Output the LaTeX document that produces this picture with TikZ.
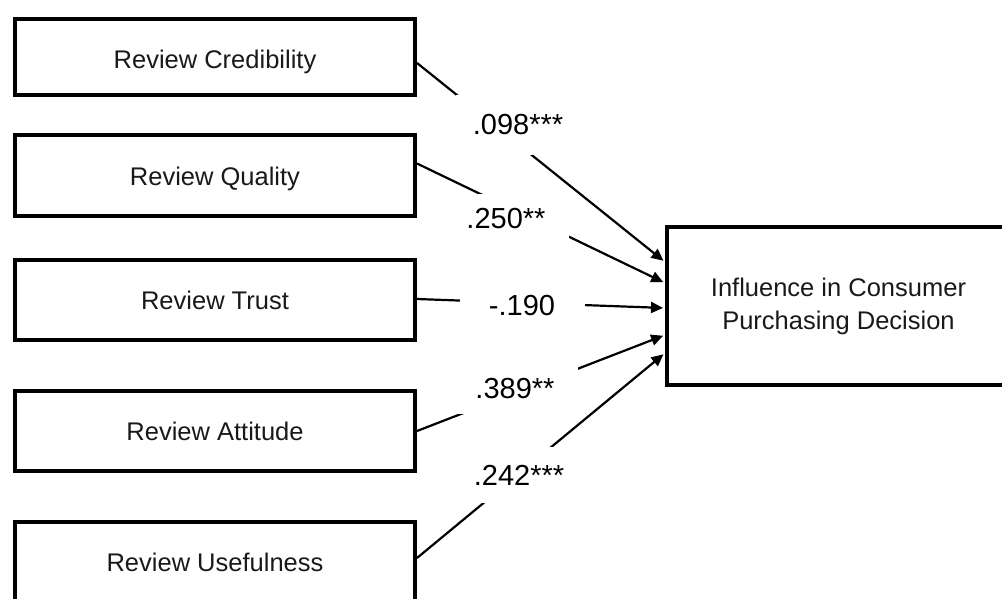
\documentclass[tikz,border=0pt]{standalone}
\usepackage{fontspec}
\setmainfont{Liberation Sans}
\usetikzlibrary{arrows.meta,calc}
\begin{document}
\begin{tikzpicture}[x=1pt,y=-1pt,
  factor/.style={draw=black, line width=4pt, minimum width=400pt, inner sep=0pt,
    font=\fontsize{25.5}{31}\selectfont, text=black!90},
  outcome/.style={draw=black, line width=4pt, minimum width=343pt, minimum height=158pt,
    inner sep=0pt, align=center, font=\fontsize{25.5}{33}\selectfont, text=black!90},
  effect/.style={draw=black, line width=2.2pt, -{Triangle[length=12pt,width=11pt]}, shorten >=2pt},
  coef/.style={fill=white, font=\fontsize{29}{35}\selectfont, minimum width=125pt,
    minimum height=50pt, inner sep=0pt}]
\clip (0,0) rectangle (1002,599);

% predictor boxes
\node[factor, minimum height=76pt] (cred) at (215,57)    {\raisebox{-5pt}[\height][\depth]{Review Credibility}};
\node[factor, minimum height=81pt] (qual) at (215,175.5) {\raisebox{-3pt}[\height][\depth]{Review Quality}};
\node[factor, minimum height=80pt] (trust) at (215,300)  {Review Trust};
\node[factor, minimum height=80pt] (att) at (215,431)    {Review Attitude};
\node[factor, minimum height=80pt] (use) at (215,562)    {Review Usefulness};

% outcome box
\node[outcome] (dec) at (838.5,306) {Influence in Consumer\\Purchasing Decision};

% paths
\draw[effect] ([yshift=-6pt]cred.east)  -- ([yshift=44pt]dec.west);
\draw[effect] ([yshift=12pt]qual.east)  -- ([yshift=23pt]dec.west);
\draw[effect] ([yshift=1pt]trust.east)  -- ([yshift=-2pt]dec.west);
\draw[effect] (att.east)                -- ([yshift=-29pt]dec.west);
\draw[effect] ([yshift=4pt]use.east)    -- ([yshift=-47pt]dec.west);

% path coefficients
\node[coef, minimum height=60pt] (c1) at (518,125) {.098***};
\node[coef] (c2) at (506,219) {.250**};
\node[coef] (c3) at (522,306) {-.190};
\node[coef] (c4) at (515,389) {.389**};
\node[coef, minimum height=56pt] (c5) at (519,475) {.242***};
\end{tikzpicture}
\end{document}
